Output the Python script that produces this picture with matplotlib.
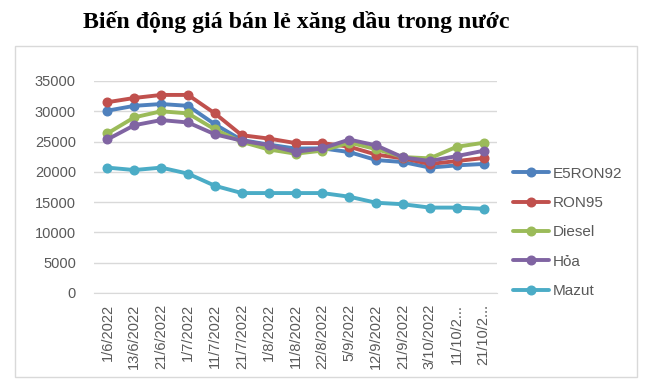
import matplotlib
matplotlib.use("Agg")
import matplotlib.pyplot as plt
from matplotlib.patches import Rectangle

dates = ["1/6/2022", "13/6/2022", "21/6/2022", "1/7/2022", "11/7/2022",
         "21/7/2022", "1/8/2022", "11/8/2022", "22/8/2022", "5/9/2022",
         "12/9/2022", "21/9/2022", "3/10/2022", "11/10/2...", "21/10/2..."]

e5ron92 = [30100, 30900, 31200, 30900, 27850, 25250, 24500, 23850, 23880,
           23270, 21950, 21620, 20700, 21070, 21300]
ron95 = [31500, 32200, 32700, 32700, 29650, 26050, 25500, 24750, 24750,
         24150, 22850, 22230, 21300, 21780, 22280]
diesel = [26350, 29000, 30000, 29650, 27000, 24950, 23700, 23000, 23500,
          24830, 23760, 22440, 22230, 24140, 24800]
hoa = [25350, 27700, 28550, 28150, 26200, 25150, 24400, 23300, 23880,
       25330, 24370, 22390, 21800, 22600, 23480]
mazut = [20700, 20300, 20700, 19700, 17700, 16500, 16500, 16500, 16500,
         15900, 14900, 14650, 14100, 14100, 13900]

series = [
    ("E5RON92", e5ron92, "#4F81BD"),
    ("RON95", ron95, "#C0504D"),
    ("Diesel", diesel, "#9BBB59"),
    ("Hỏa", hoa, "#8064A2"),
    ("Mazut", mazut, "#4BACC6"),
]

plt.rcParams["font.family"] = ["Liberation Sans", "DejaVu Sans"]

fig = plt.figure(figsize=(6.5, 3.89), dpi=100)
ax = fig.add_axes([94 / 650, 1 - 293 / 389, 403 / 650, 212 / 389])

x = list(range(len(dates)))
for name, vals, col in series:
    ax.plot(x, vals, color=col, lw=2.8, marker="o", ms=6.2,
            solid_capstyle="round", label=name)

ax.set_xlim(-0.5, len(dates) - 0.5)
ax.set_ylim(0, 35000)
ax.set_yticks(range(0, 35001, 5000))
ax.grid(axis="y", color="#D9D9D9", lw=1)
ax.set_axisbelow(True)
for s in ["top", "right", "left"]:
    ax.spines[s].set_visible(False)
ax.spines["bottom"].set_color("#D9D9D9")
ax.tick_params(length=0, colors="#595959", labelsize=10.5)
ax.tick_params(axis="y", pad=13)
ax.tick_params(axis="x", pad=8)
ax.set_xticks(x)
ax.set_xticklabels(dates, rotation=90, va="top", ha="center")

fig.legend(loc="upper left", bbox_to_anchor=(499 / 650, 1 - 153 / 389),
           frameon=False, fontsize=11, handlelength=2.4, handletextpad=0.2,
           labelspacing=1.0, labelcolor="#595959")

fig.text(296 / 650, 1 - 22 / 389, "Biến động giá bán lẻ xăng dầu trong nước",
         ha="center", va="center", fontsize=17.2, fontweight="bold",
         family=["Liberation Serif", "DejaVu Serif"])

fig.patches.append(Rectangle((15 / 650, 1 - 377 / 389), 622 / 650, 331 / 389,
                             transform=fig.transFigure, fill=False,
                             edgecolor="#D9D9D9", lw=1))

fig.savefig("out.png", dpi=100)
